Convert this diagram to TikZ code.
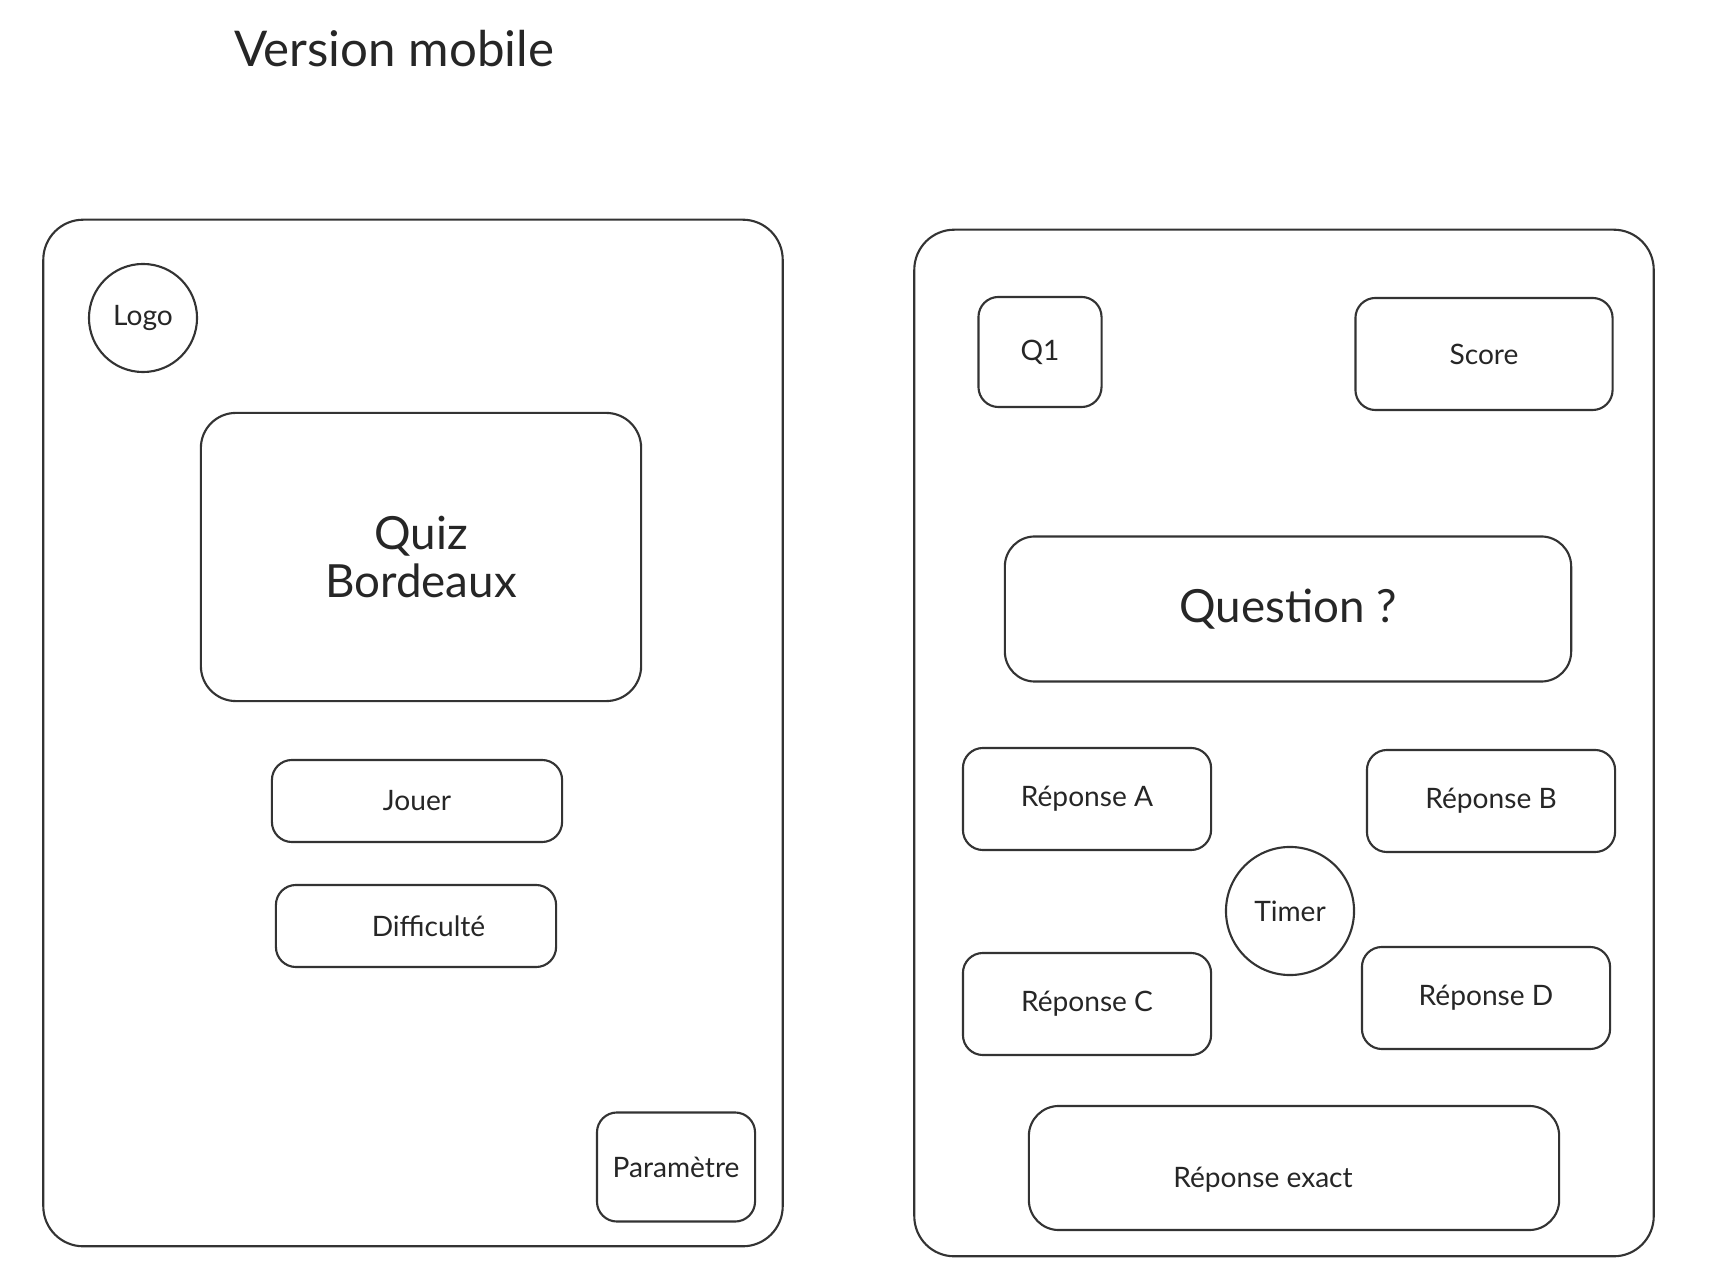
\documentclass[tikz,border=0pt]{standalone}
\usepackage{fontspec}
\setmainfont{Lato}
\begin{document}
\begin{tikzpicture}[x=0.01cm, y=-0.01cm, line width=0.6pt, draw=black!80,
    every node/.style={draw=black!80, text=black!85, rectangle, rounded corners=0.2cm, font=\fontsize{8}{10}\selectfont},
    ecran/.style={rounded corners=0.4cm, minimum width=7.39cm, minimum height=10.26cm},
    bouton/.style={minimum width=2.48cm, minimum height=1.02cm},
    rond/.style={circle, rounded corners=0pt}]
    \useasboundingbox (0,0) rectangle (1719,1271);
    \node[draw=none, font=\fontsize{14}{17}\selectfont] (titre) at (394, 49) {Version mobile};

    % Accueil
    \node[ecran] (accueil) at (413, 733) {};
    \node[rond, minimum size=1.08cm] (logo) at (143, 318) {Logo};
    \node[minimum width=4.40cm, minimum height=2.88cm, rounded corners=0.35cm, align=center,
          font=\fontsize{13}{13.4}\selectfont] (quiz) at (421, 557) {Quiz\\Bordeaux};
    \node[minimum width=2.90cm, minimum height=0.82cm] (jouer) at (417, 801) {Jouer};
    \node[minimum width=2.80cm, minimum height=0.82cm] (diff) at (416, 926) {\hspace*{0.25cm}Difficulté};
    \node[minimum width=1.58cm, minimum height=1.09cm] (param) at (676, 1167) {Paramètre};

    % Jeu
    \node[ecran] (jeu) at (1284, 743) {};
    \node[minimum width=1.23cm, minimum height=1.10cm] (q1) at (1040, 352) {Q1};
    \node[minimum width=2.57cm, minimum height=1.12cm] (score) at (1484, 354) {Score};
    \node[minimum width=5.66cm, minimum height=1.45cm, rounded corners=0.3cm,
          font=\fontsize{13}{16}\selectfont] (question) at (1288, 609) {Question ?};
    \node[bouton] (repA) at (1087, 799) {Réponse A};
    \node[bouton] (repB) at (1491, 801) {Réponse B};
    \node[rond, minimum size=1.28cm] (timer) at (1290, 911) {Timer};
    \node[bouton] (repC) at (1087, 1004) {Réponse C};
    \node[bouton] (repD) at (1486, 998) {Réponse D};
    \node[minimum width=5.30cm, minimum height=1.24cm, rounded corners=0.3cm] (exact) at (1294, 1168)
          {\hspace*{-0.62cm}\raisebox{-0.44cm}{Réponse exact}}; % texte decale
\end{tikzpicture}
\end{document}
